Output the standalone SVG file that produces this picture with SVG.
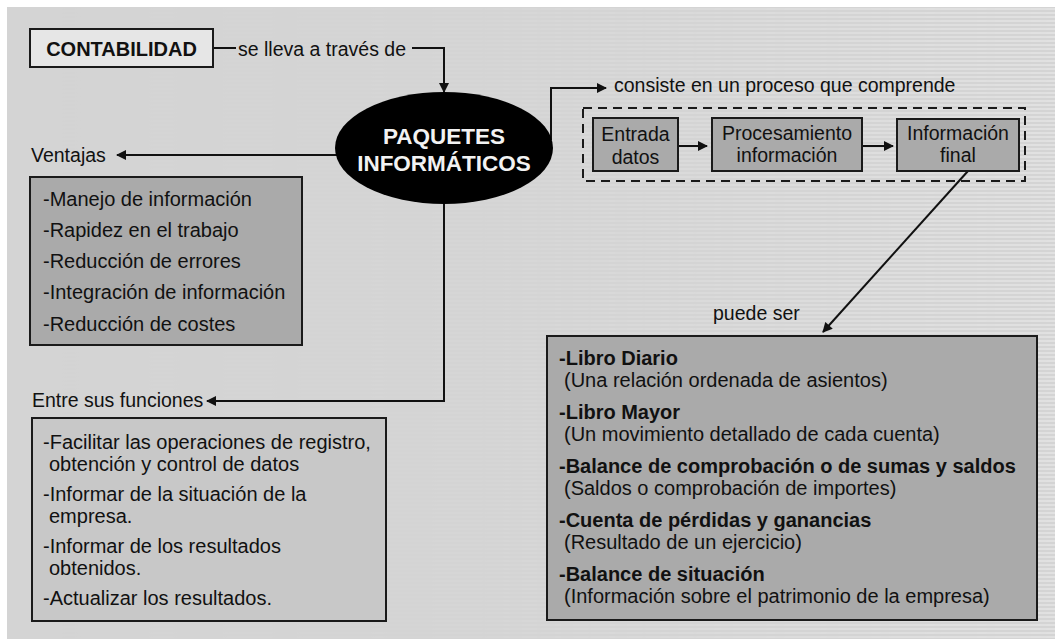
<svg xmlns="http://www.w3.org/2000/svg" width="1055" height="639" viewBox="0 0 1055 639">
<style>
text{font-family:"Liberation Sans",Arial,Helvetica,sans-serif;fill:#111;font-size:20px}
.b{font-weight:bold}
.lbl{font-size:19.5px}
.c{text-anchor:middle}
.box{stroke:#1a1a1a;stroke-width:2}
.con{fill:none;stroke:#111;stroke-width:2}
</style>
<defs>
<marker id="ah" viewBox="0 0 10 10" refX="9" refY="5" markerWidth="11" markerHeight="10" markerUnits="userSpaceOnUse" orient="auto">
<path d="M0,0 L10,5 L0,10 z" fill="#111"/>
</marker>
<pattern id="stripes" width="8" height="4" patternUnits="userSpaceOnUse">
<rect width="8" height="2" fill="#e2e2e2"/>
</pattern>
<linearGradient id="fade" x1="0" y1="0" x2="1" y2="0">
<stop offset="0" stop-color="#fff" stop-opacity="0"/>
<stop offset="0.45" stop-color="#fff" stop-opacity="0.15"/>
<stop offset="1" stop-color="#fff" stop-opacity="0.9"/>
</linearGradient>
<mask id="m"><rect x="7" y="7" width="1048" height="632" fill="url(#fade)"/></mask>
</defs>
<rect width="1055" height="639" fill="#ffffff"/>
<rect x="7" y="7" width="1048" height="632" fill="#d4d4d4"/>
<rect x="7" y="7" width="1048" height="632" fill="url(#stripes)" mask="url(#m)"/>

<g id="connectors">
<path class="con" d="M213,48 H236"/>
<path class="con" d="M412,48 H444 V92" marker-end="url(#ah)"/>
<path class="con" d="M337,155 H117" marker-end="url(#ah)"/>
<path class="con" d="M444,203 V401 H207" marker-end="url(#ah)"/>
<path class="con" d="M551,140 V88 H606" marker-end="url(#ah)"/>
<path class="con" d="M678,146 H707" marker-end="url(#ah)"/>
<path class="con" d="M862,146 H893" marker-end="url(#ah)"/>
<path class="con" d="M968,171 L823,332" marker-end="url(#ah)"/>
<text class="lbl" x="238" y="56">se lleva a través de</text>
<text class="lbl" x="31" y="162">Ventajas</text>
<text class="lbl" x="32" y="407">Entre sus funciones</text>
<text class="lbl" x="614" y="92">consiste en un proceso que comprende</text>
<text class="lbl" x="713" y="320">puede ser</text>
</g>

<g id="contabilidad">
<rect class="box" x="30" y="29" width="183" height="38" fill="#e6e6e6"/>
<text class="b c" x="121.5" y="56" font-size="19.5">CONTABILIDAD</text>
</g>

<g id="paquetes">
<ellipse cx="444" cy="148" rx="109" ry="56" fill="#000"/>
<text class="b c" x="444" y="144" style="fill:#f2f2f2;font-size:22.5px">PAQUETES</text>
<text class="b c" x="444" y="171" style="fill:#f2f2f2;font-size:22.5px">INFORMÁTICOS</text>
</g>

<g id="ventajas-box">
<rect class="box" x="30" y="177" width="272" height="168" fill="#aaaaaa"/>
<text x="43" y="206">-Manejo de información</text>
<text x="43" y="237">-Rapidez en el trabajo</text>
<text x="43" y="268">-Reducción de errores</text>
<text x="43" y="299">-Integración de información</text>
<text x="43" y="331">-Reducción de costes</text>
</g>

<g id="funciones-box">
<rect class="box" x="32" y="418" width="354" height="203" fill="#c8c8c8"/>
<text x="43" y="449">-Facilitar las operaciones de registro,</text>
<text x="49" y="471">obtención y control de datos</text>
<text x="43" y="501">-Informar de la situación de la</text>
<text x="49" y="523">empresa.</text>
<text x="43" y="553">-Informar de los resultados</text>
<text x="49" y="575">obtenidos.</text>
<text x="43" y="605">-Actualizar los resultados.</text>
</g>

<g id="proceso">
<rect x="583" y="108" width="442" height="73" fill="none" stroke="#1a1a1a" stroke-width="2" stroke-dasharray="9,6"/>
</g>

<g id="entrada">
<rect class="box" x="593" y="118" width="85" height="53" fill="#aaaaaa"/>
<text class="c lbl" x="635.5" y="141">Entrada</text>
<text class="c lbl" x="635.5" y="164">datos</text>
</g>

<g id="procesamiento">
<rect class="box" x="712" y="118" width="150" height="53" fill="#aaaaaa"/>
<text class="c lbl" x="787" y="140">Procesamiento</text>
<text class="c lbl" x="787" y="162">información</text>
</g>

<g id="informacion-final">
<rect class="box" x="897" y="119" width="122" height="52" fill="#aaaaaa"/>
<text class="c lbl" x="958" y="140">Información</text>
<text class="c lbl" x="958" y="162">final</text>
</g>

<g id="libros-box">
<rect class="box" x="547" y="336" width="490" height="284" fill="#aaaaaa"/>
<text class="b" x="559" y="365">-Libro Diario</text>
<text x="564" y="387">(Una relación ordenada de asientos)</text>
<text class="b" x="559" y="419">-Libro Mayor</text>
<text x="564" y="441">(Un movimiento detallado de cada cuenta)</text>
<text class="b" x="559" y="473">-Balance de comprobación o de sumas y saldos</text>
<text x="564" y="495">(Saldos o comprobación de importes)</text>
<text class="b" x="559" y="527">-Cuenta de pérdidas y ganancias</text>
<text x="564" y="549">(Resultado de un ejercicio)</text>
<text class="b" x="559" y="581">-Balance de situación</text>
<text x="564" y="603">(Información sobre el patrimonio de la empresa)</text>
</g>
</svg>
